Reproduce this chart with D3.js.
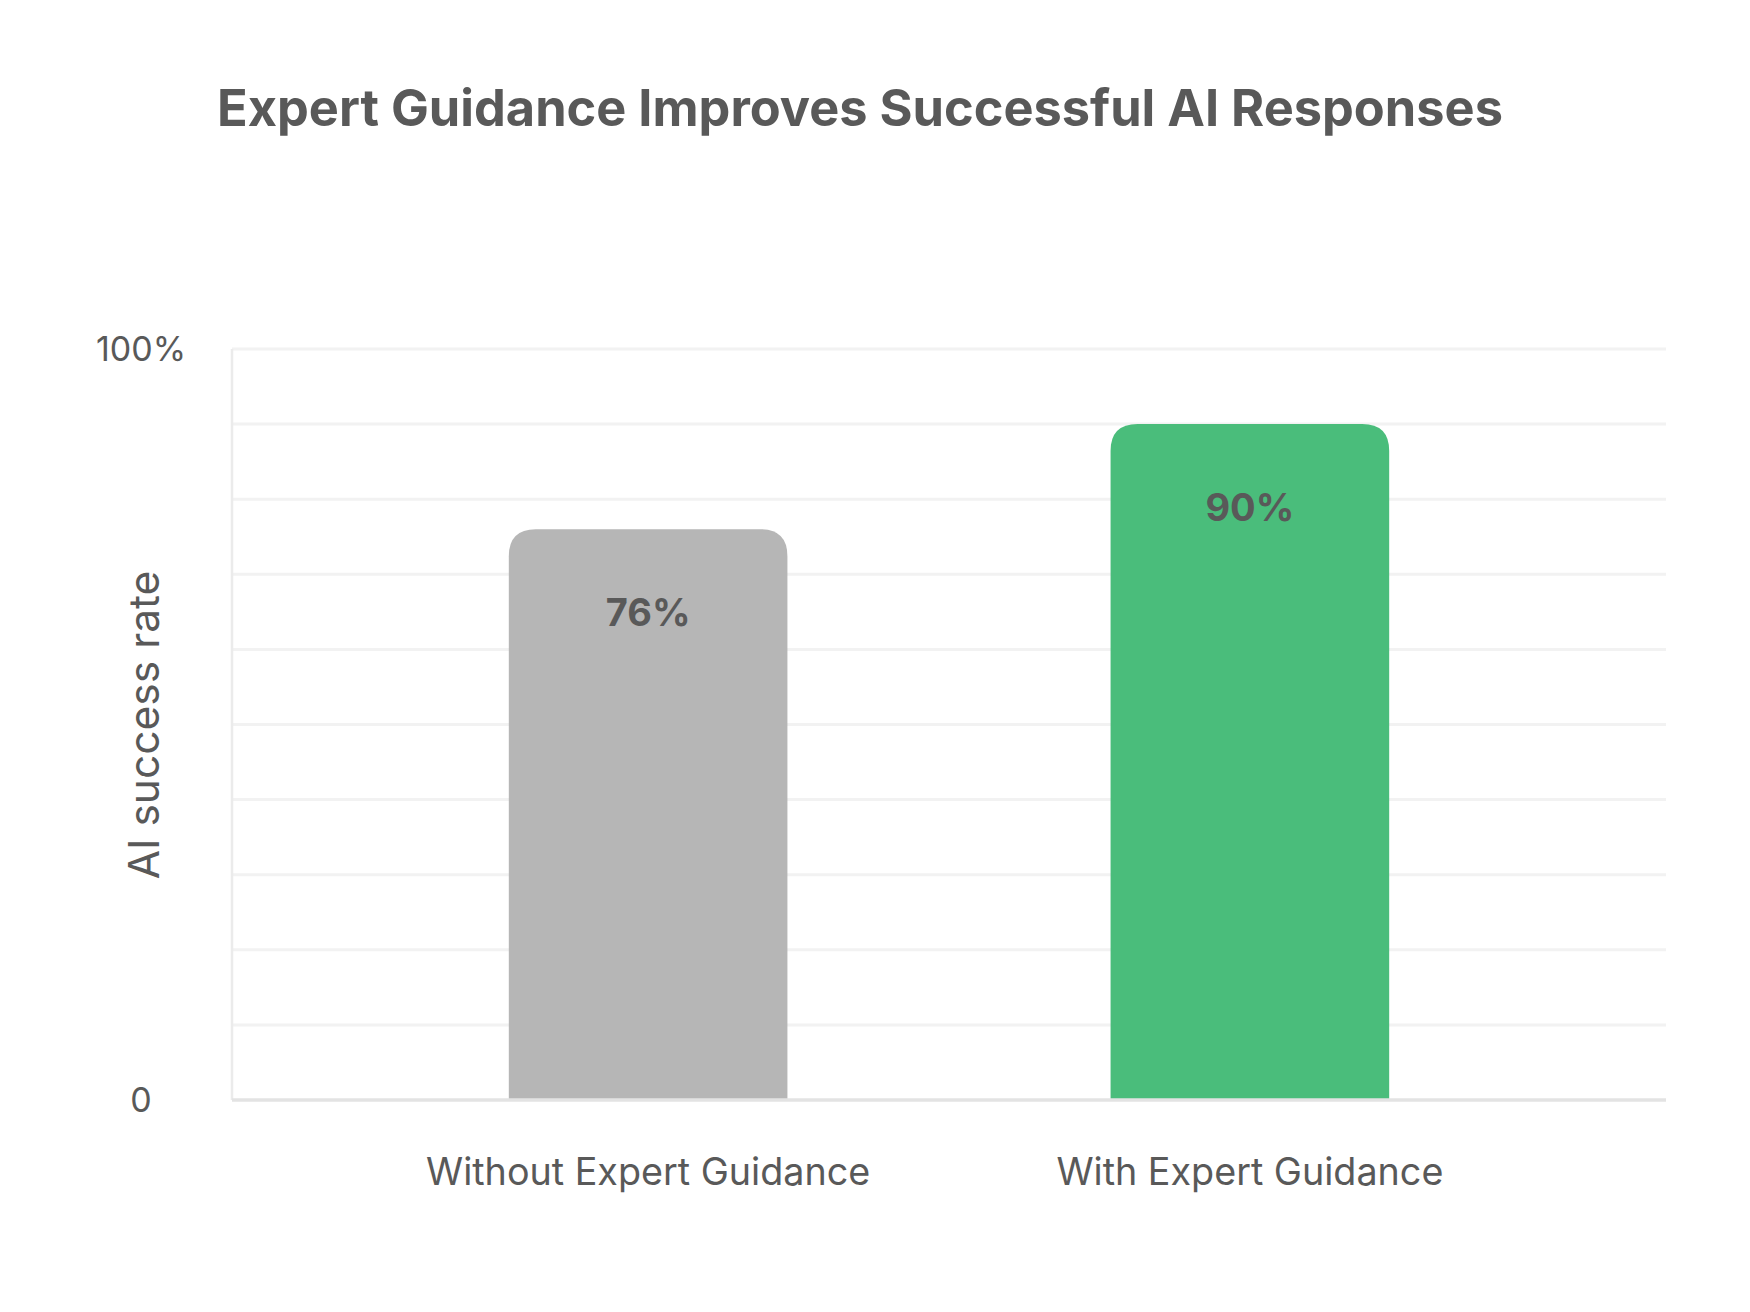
<!DOCTYPE html>
<html>
<head>
<meta charset="utf-8">
<script src="https://cdn.jsdelivr.net/npm/d3@7"></script>
<style>
  body { margin: 0; background: #fff; }
  text { font-family: Inter, "Noto Sans", sans-serif; fill: #595959; }
</style>
</head>
<body>
<div id="chart"></div>
<script>
var categories = ["Without Expert Guidance", "With Expert Guidance"];
var values = [76, 90];
var barColors = ["#b6b6b6", "#4abd7b"];
var yTicks = [0, 100];
var yTickLabels = ["0", "100%"];
var gridTicks = [10, 20, 30, 40, 50, 60, 70, 80, 90, 100];

var W = 1750, H = 1312;
var margin = {top: 349, right: 84, bottom: 212, left: 232},
    width = W - margin.left - margin.right,
    height = H - margin.top - margin.bottom;

var svg = d3.select("#chart")
  .append("svg")
    .attr("width", W)
    .attr("height", H);

svg.append("text")
  .attr("x", 860)
  .attr("y", 126)
  .attr("text-anchor", "middle")
  .style("font-size", "50.5px")
  .style("font-weight", 700)
  .text("Expert Guidance Improves Successful AI Responses");

var g = svg.append("g")
  .attr("transform", "translate(" + margin.left + "," + margin.top + ")");

var x = d3.scaleBand()
  .domain(categories)
  .range([0, width])
  .paddingInner(0.537)
  .paddingOuter(0.46);

var y = d3.scaleLinear()
  .domain([0, 100])
  .range([height, 0]);

// light horizontal grid
g.append("g")
  .selectAll("line")
  .data(gridTicks)
  .enter()
  .append("line")
    .attr("x1", 0)
    .attr("x2", width)
    .attr("y1", function(d) { return y(d); })
    .attr("y2", function(d) { return y(d); })
    .attr("stroke", "#f2f2f2")
    .attr("stroke-width", 3);

// left axis line
g.append("line")
  .attr("x1", 0).attr("x2", 0)
  .attr("y1", y(100)).attr("y2", y(0))
  .attr("stroke", "#ebebeb")
  .attr("stroke-width", 2.5);

// bars with rounded tops
var r = 27;
function barPath(d, i) {
  var x0 = x(categories[i]), x1 = x0 + x.bandwidth();
  var top = y(d), bottom = y(0);
  return "M" + x0 + "," + bottom +
    "V" + (top + r) +
    "Q" + x0 + "," + top + " " + (x0 + r) + "," + top +
    "H" + (x1 - r) +
    "Q" + x1 + "," + top + " " + x1 + "," + (top + r) +
    "V" + bottom + "Z";
}

g.selectAll(".bar")
  .data(values)
  .enter()
  .append("path")
    .attr("class", "bar")
    .attr("d", barPath)
    .attr("fill", function(d, i) { return barColors[i]; });

// bottom axis line
g.append("line")
  .attr("x1", 0).attr("x2", width)
  .attr("y1", y(0)).attr("y2", y(0))
  .attr("stroke", "#e3e3e3")
  .attr("stroke-width", 3.5);

// value labels
g.selectAll(".val")
  .data(values)
  .enter()
  .append("text")
    .attr("class", "val")
    .attr("x", function(d, i) { return x(categories[i]) + x.bandwidth() / 2; })
    .attr("y", function(d) { return y(d) + 97; })
    .attr("text-anchor", "middle")
    .style("font-size", "38px")
    .style("font-weight", 700)
    .text(function(d) { return d + "%"; });

// y tick labels
g.selectAll(".ytick")
  .data(yTicks)
  .enter()
  .append("text")
    .attr("class", "ytick")
    .attr("x", 141 - margin.left)
    .attr("y", function(d) { return y(d); })
    .attr("dy", "0.36em")
    .attr("text-anchor", "middle")
    .style("font-size", "34px")
    .text(function(d, i) { return yTickLabels[i]; });

// x category labels
g.selectAll(".xlab")
  .data(categories)
  .enter()
  .append("text")
    .attr("class", "xlab")
    .attr("x", function(d) { return x(d) + x.bandwidth() / 2; })
    .attr("y", 1185 - margin.top)
    .attr("text-anchor", "middle")
    .style("font-size", "37.7px")
    .text(function(d) { return d; });

// y axis title
svg.append("text")
  .attr("transform", "translate(159,725) rotate(-90)")
  .attr("text-anchor", "middle")
  .style("font-size", "42.5px")
  .text("AI success rate");
</script>
</body>
</html>
